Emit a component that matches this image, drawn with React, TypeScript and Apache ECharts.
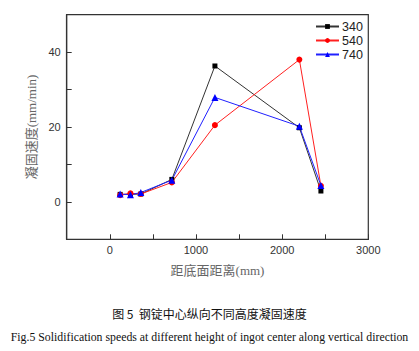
import React, { useEffect, useRef } from "react";
import * as echarts from "echarts";

const distances = [120, 240, 360, 720, 1220, 2200, 2450];
const speed340 = [2.0, 2.0, 2.1, 6.0, 36.3, 19.8, 2.9];
const speed540 = [1.8, 2.3, 2.1, 5.2, 20.5, 38.0, 4.3];
const speed740 = [2.1, 1.9, 2.5, 5.8, 27.9, 20.2, 4.4];
const seriesNames = ["340", "540", "740"];
const xTickLabels = [0, 1000, 2000, 3000];
const yTickLabels = [0, 20, 40];

const pairs = (ys: number[]) => distances.map((d, i) => [d, ys[i]]);

export default function App() {
  const ref = useRef<HTMLDivElement>(null);
  useEffect(() => {
    if (!ref.current) return;
    const chart = echarts.init(ref.current, null, { renderer: "svg" });
    const sans = "Liberation Sans, Arial, sans-serif";
    const serifCjk = "Liberation Serif, Noto Sans CJK SC, serif";
    chart.setOption({
      animation: false,
      backgroundColor: "#fff",
      grid: {
        left: 66.7,
        right: 50.7,
        top: 14.7,
        bottom: 111.7,
        show: true,
        borderColor: "#333",
        borderWidth: 1.2,
      },
      legend: {
        orient: "vertical",
        left: 315,
        top: 20,
        itemWidth: 23,
        itemHeight: 6,
        itemGap: 1,
        padding: 0,
        textStyle: { fontFamily: sans, fontSize: 12.5, lineHeight: 12, color: "#222", padding: [0, 0, 0, -2] },
        data: seriesNames,
      },
      xAxis: {
        type: "value",
        min: -500,
        max: 3000,
        interval: 500,
        axisLine: { show: true, onZero: false, lineStyle: { color: "#333", width: 1.2 } },
        splitLine: { show: false },
        axisTick: { show: true, inside: true, length: 5, lineStyle: { color: "#333", width: 1 } },
        axisLabel: {
          fontFamily: sans,
          fontSize: 11,
          color: "#333",
          margin: 5,
          formatter: (v: number) => (xTickLabels.includes(v) ? String(v) : ""),
        },
        name: "距底面距离(mm)",
        nameLocation: "middle",
        nameGap: 25,
        nameTextStyle: { fontFamily: serifCjk, fontSize: 13, color: "#666" },
      },
      yAxis: {
        type: "value",
        min: -10,
        max: 50,
        interval: 10,
        axisLine: { show: true, onZero: false, lineStyle: { color: "#333", width: 1.2 } },
        splitLine: { show: false },
        axisTick: { show: true, inside: true, length: 5, lineStyle: { color: "#333", width: 1 } },
        axisLabel: {
          fontFamily: sans,
          fontSize: 11,
          color: "#333",
          margin: 6,
          formatter: (v: number) => (yTickLabels.includes(v) ? String(v) : ""),
        },
        name: "凝固速度(mm/min)",
        nameLocation: "middle",
        nameGap: 18,
        nameTextStyle: { fontFamily: serifCjk, fontSize: 13, color: "#666" },
      },
      series: [
        {
          name: seriesNames[0],
          type: "line",
          data: pairs(speed340),
          symbol: "rect",
          symbolSize: 5,
          itemStyle: { color: "#000" },
          lineStyle: { color: "#333", width: 1 },
        },
        {
          name: seriesNames[1],
          type: "line",
          data: pairs(speed540),
          symbol: "circle",
          symbolSize: 6,
          itemStyle: { color: "#ff0000" },
          lineStyle: { color: "#ff2020", width: 1 },
        },
        {
          name: seriesNames[2],
          type: "line",
          data: pairs(speed740),
          symbol: "triangle",
          symbolSize: 7,
          itemStyle: { color: "#0000ff" },
          lineStyle: { color: "#2020ff", width: 1 },
        },
      ],
      graphic: [
        {
          type: "text",
          left: "center",
          top: 307,
          style: {
            text: "图 5  钢锭中心纵向不同高度凝固速度",
            fontFamily: "Noto Sans CJK SC, sans-serif",
            fontSize: 12,
            fill: "#111",
          },
        },
        {
          type: "text",
          left: "center",
          top: 331,
          style: {
            text: "Fig.5 Solidification speeds at different height of ingot center along vertical direction",
            fontFamily: "Liberation Serif, Times New Roman, serif",
            fontSize: 11.8,
            fill: "#111",
          },
        },
      ],
    });
    return () => chart.dispose();
  }, []);
  return (
    <div
      ref={ref}
      style={{ position: "fixed", left: 0, top: 0, width: 419, height: 351 }}
    />
  );
}
